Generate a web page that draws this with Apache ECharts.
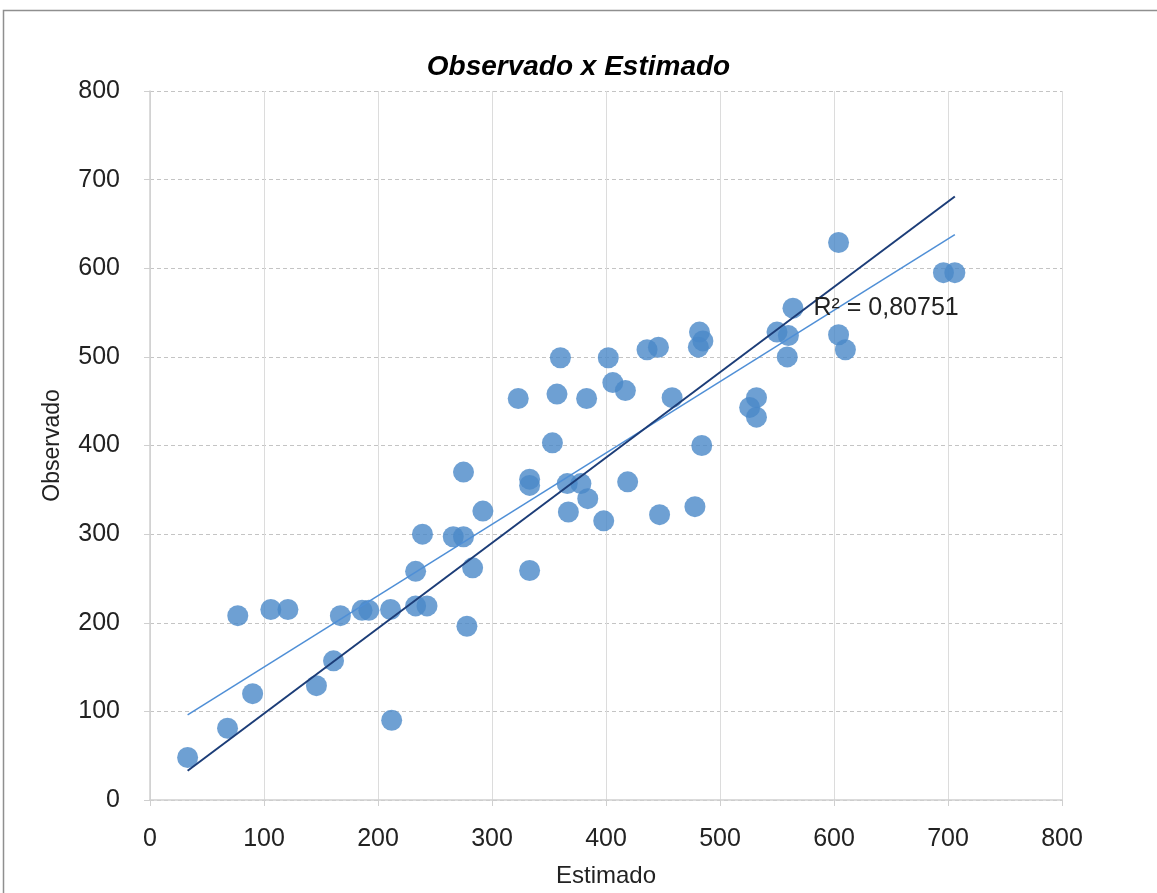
<!DOCTYPE html>
<html>
<head>
    <meta charset="utf-8">
    <title>Observado x Estimado</title>
    <script src="https://cdn.jsdelivr.net/npm/echarts@6/dist/echarts.min.js"></script>
</head>
<body style="margin:0;">
    <div id="div_chart" style="width: 1157px; height:893px;"></div>

    <script type="text/javascript">
        // valores
        var estimado = [33, 68, 77, 90, 106, 121, 146, 161, 167, 186, 192, 211, 212, 233, 243, 233, 278, 283,
            239, 266, 275, 292, 275, 333, 333, 333, 353, 323, 357, 360, 383, 366, 378, 384, 367, 398, 419,
            447, 478, 402, 406, 417, 436, 446, 458, 482, 485, 481, 484, 526, 532, 532, 550, 560, 559, 564,
            604, 604, 610, 696, 706];
        var observado = [48, 81, 208, 120, 215, 215, 129, 157, 208, 214, 214, 215, 90, 219, 219, 258, 196, 262,
            300, 297, 297, 326, 370, 362, 355, 259, 403, 453, 458, 499, 453, 357, 357, 340, 325, 315, 359,
            322, 331, 499, 471, 462, 508, 511, 454, 528, 518, 511, 400, 443, 454, 432, 528, 524, 500, 555,
            629, 525, 508, 595, 595];

        // linhas de tendencia (extremos)
        var trendX = [33, 706];
        var trendLinear = [96, 638];
        var trendOrigem = [33, 681];
        var r2Text = 'R² = 0,80751';
        var r2Pos = [582, 555];

        var pontos = estimado.map(function (x, i) { return [x, observado[i]]; });
        var linLinear = trendX.map(function (x, i) { return [x, trendLinear[i]]; });
        var linOrigem = trendX.map(function (x, i) { return [x, trendOrigem[i]]; });

        var fonte = '"Liberation Sans Narrow", "Liberation Sans", Arial, sans-serif';

        var myChart = echarts.init(document.getElementById('div_chart'));
        myChart.setOption({
            backgroundColor: '#ffffff',
            animation: false,
            graphic: [{
                type: 'rect',
                shape: { x: 3.5, y: 10.5, width: 1300, height: 1000 },
                style: { fill: 'none', stroke: '#8f8f8f', lineWidth: 1.5 },
                silent: true
            }],
            title: {
                text: 'Observado x Estimado',
                left: 'center',
                top: 48,
                textStyle: {
                    fontFamily: fonte,
                    fontSize: 28,
                    fontWeight: 'bold',
                    fontStyle: 'italic',
                    color: '#000'
                }
            },
            grid: { left: 150, right: 95, top: 91, bottom: 91 },
            xAxis: {
                type: 'value',
                min: 0, max: 800, interval: 100,
                name: 'Estimado',
                nameLocation: 'middle',
                nameGap: 64,
                nameTextStyle: { fontFamily: fonte, fontSize: 24, color: '#222' },
                axisLine: { show: true, lineStyle: { color: '#cfcfcf', width: 1.5 } },
                axisTick: { show: true, length: 6, lineStyle: { color: '#cfcfcf' } },
                axisLabel: { fontFamily: fonte, fontSize: 25, color: '#222', margin: 27 },
                splitLine: { show: true, lineStyle: { color: '#dcdcdc', type: 'solid' } }
            },
            yAxis: {
                type: 'value',
                min: 0, max: 800, interval: 100,
                name: 'Observado',
                nameLocation: 'middle',
                nameGap: 86,
                nameTextStyle: { fontFamily: fonte, fontSize: 23, color: '#222' },
                axisLine: { show: true, lineStyle: { color: '#cfcfcf', width: 1.5 } },
                axisTick: { show: true, length: 6, lineStyle: { color: '#cfcfcf' } },
                axisLabel: { fontFamily: fonte, fontSize: 25, color: '#222', margin: 30 },
                splitLine: { show: true, lineStyle: { color: '#c4c4c4', type: [4, 3] } }
            },
            series: [
                {
                    type: 'line',
                    data: linLinear,
                    symbol: 'none',
                    z: 3,
                    lineStyle: { color: '#4f8fd6', width: 1.5 }
                },
                {
                    type: 'line',
                    data: linOrigem,
                    symbol: 'none',
                    z: 3,
                    lineStyle: { color: '#1c3d78', width: 2 },
                    markPoint: {
                        symbol: 'circle',
                        symbolSize: 0,
                        data: [{ coord: r2Pos }],
                        label: {
                            show: true,
                            position: 'right',
                            distance: 0,
                            formatter: r2Text,
                            fontFamily: fonte,
                            fontSize: 25,
                            color: '#222'
                        }
                    }
                },
                {
                    type: 'scatter',
                    data: pontos,
                    symbol: 'circle',
                    symbolSize: 21,
                    z: 2,
                    itemStyle: { color: '#4a88c8' }
                }
            ]
        });
    </script>
</body>
</html>
